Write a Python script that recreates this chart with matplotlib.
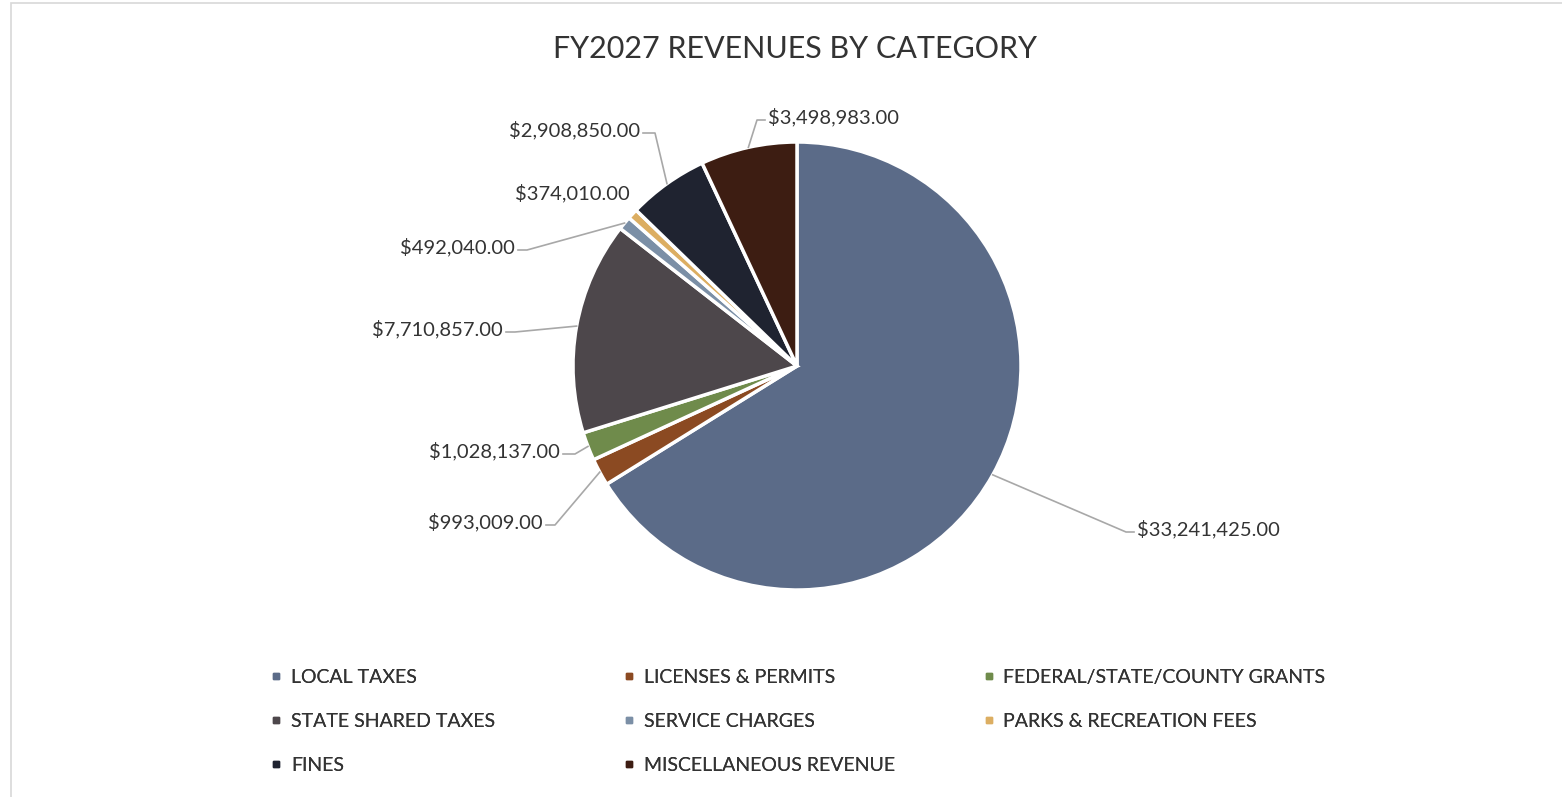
import matplotlib
matplotlib.use("Agg")
import matplotlib.pyplot as plt
from matplotlib.lines import Line2D
from matplotlib.patches import Rectangle
import numpy as np

plt.rcParams['font.family'] = ['Lato', 'DejaVu Sans']

# ---- data ----
categories = ["LOCAL TAXES", "LICENSES & PERMITS", "FEDERAL/STATE/COUNTY GRANTS",
              "STATE SHARED TAXES", "SERVICE CHARGES", "PARKS & RECREATION FEES",
              "FINES", "MISCELLANEOUS REVENUE"]
values = [33241425.00, 993009.00, 1028137.00, 7710857.00,
          492040.00, 374010.00, 2908850.00, 3498983.00]
title = "FY2027 REVENUES BY CATEGORY"

# ---- styles ----
colors = ['#5b6b88', '#8b4a22', '#6f8b4b', '#4d474b',
          '#7b8fa6', '#dcae62', '#1f2330', '#3d1d12']
text_color = '#333333'
leader_color = '#a8a8a8'

W, H = 1562, 797
fig = plt.figure(figsize=(W / 100, H / 100), dpi=100)
ax = fig.add_axes([0, 0, 1, 1])

def Y(y):
    return H - y

# frame
ax.add_patch(Rectangle((11, Y(800)), 1600, 797, fill=False, ec='#d8d8d8', lw=1.2))

cx, cy, r = 797, 366, 224
wedges, _ = ax.pie(values, colors=colors, startangle=90, counterclock=False,
                   center=(cx, Y(cy)), radius=r,
                   wedgeprops=dict(edgecolor='white', linewidth=2.5))
ax.set_xlim(0, W)
ax.set_ylim(0, H)
ax.set_aspect('equal')
ax.axis('off')

ax.text(795, Y(49), title, ha='center', va='center', fontsize=22, color=text_color)

# label placement (pixel coords): text x, text y, ha, elbow x (None = no leader)
label_pos = [
    (1137, 529, 'left', 1126),
    (543, 522, 'right', 555),
    (560, 451, 'right', 575),
    (503, 329, 'right', 515),
    (515, 247, 'right', 527),
    (630, 193, 'right', None),
    (640, 130, 'right', 655),
    (768, 117, 'left', 757),
]

for w, v, (tx, ty, ha, ex) in zip(wedges, values, label_pos):
    ang = np.deg2rad((w.theta1 + w.theta2) / 2)
    px, py = cx + r * np.cos(ang), Y(cy) + r * np.sin(ang)
    ax.text(tx, Y(ty), f"${v:,.2f}", ha=ha, va='center', fontsize=14.5, color=text_color)
    if ex is not None:
        ly = Y(ty + 3)
        end = tx - 3 if ha == 'left' else tx + 3
        ax.plot([px, ex, end], [py, ly, ly], color=leader_color, lw=1.2,
                solid_joinstyle='round')

# legend: three columns (row-major order)
col_x = [0.167, 0.393, 0.623]
for c in range(3):
    idx = list(range(c, len(categories), 3))
    handles = [Line2D([], [], marker='s', ls='none', markersize=5,
                      markerfacecolor=colors[i], markeredgecolor=colors[i]) for i in idx]
    leg = fig.legend(handles, [categories[i] for i in idx], loc='upper left',
                     bbox_to_anchor=(col_x[c], 1 - 659 / H), frameon=False,
                     fontsize=14, handlelength=0.6, handletextpad=0.45,
                     labelspacing=1.39, labelcolor=text_color, borderpad=0)
    fig.add_artist(leg)

fig.savefig("out.png", dpi=100, facecolor='white')
